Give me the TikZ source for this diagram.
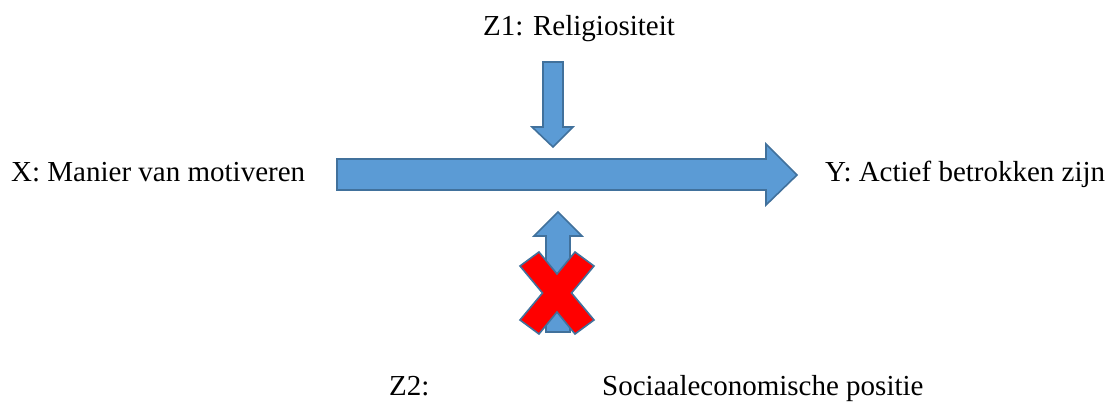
\documentclass[tikz,border=0pt]{standalone}
\usepackage{fontspec}
\setmainfont{Liberation Serif}
\usepackage{tikz}
\usepackage{xcolor}
\usetikzlibrary{positioning}

\definecolor{arrowblue}{HTML}{5B9BD5}
\definecolor{edgeblue}{HTML}{41719C}
\definecolor{crossred}{HTML}{FF0000}

\begin{document}
\begin{tikzpicture}[x=1pt, y=-1pt,
    label/.style={inner sep=0pt, anchor=base west, font=\fontsize{29}{35}\selectfont},
    blockarrow/.style={fill=arrowblue, draw=edgeblue, line width=1.6pt, line join=miter},
    crossmark/.style={fill=crossred, draw=edgeblue, line width=1.6pt, line join=miter}]

            \useasboundingbox (0,0) rectangle (1114,403);

            \node[label] (x)  at (11,182)  {X: Manier van motiveren};
            \node[label] (y)  at (825,182) {Y: Actief betrokken zijn};
            \node[label] (z1) at (483,36)  {Z1: Religiositeit};
            \node[label] (z2) at (389,395) {Z2:};
            \node[label] (z2b) at (602,395) {Sociaaleconomische positie};

            % main arrow X -> Y
            \draw[blockarrow] (337,159) -- (766,159) -- (766,144) -- (797,175)
                -- (766,205) -- (766,190) -- (337,190) -- cycle;

            % Z1 arrow
            \draw[blockarrow] (543,62) -- (563,62) -- (563,127) -- (573,127)
                -- (553,147) -- (532,127) -- (543,127) -- cycle;

            % Z2 arrow
            \draw[blockarrow] (546,332) -- (546,236) -- (534,236) -- (558,212)
                -- (582,236) -- (570,236) -- (570,332) -- cycle;

            % cross over Z2 arrow
            \draw[crossmark, shift={(557,293)}]
                (0,-19) -- (18,-41) -- (37,-27) -- (14.5,0) -- (37,27) -- (18,41)
                -- (0,19) -- (-18,41) -- (-37,27) -- (-14.5,0) -- (-37,-27)
                -- (-18,-41) -- cycle;

        \end{tikzpicture}
\end{document}
